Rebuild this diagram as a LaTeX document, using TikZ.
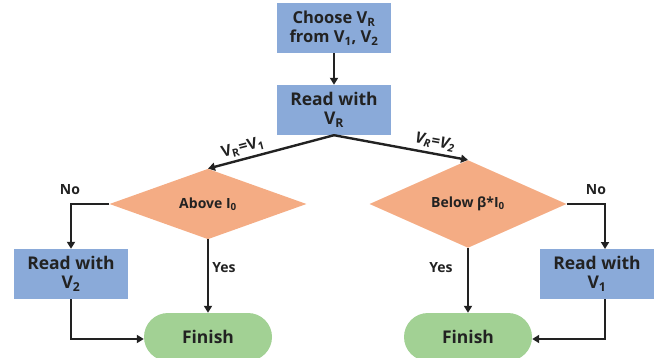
\documentclass[tikz,border=0pt]{standalone}
\usepackage{fontspec}
\setmainfont{Open Sans}
\usetikzlibrary{shapes.geometric,shapes.misc,arrows.meta}
\definecolor{boxblue}{HTML}{8AAAD9}
\definecolor{diaorange}{HTML}{F4AC84}
\definecolor{fingreen}{HTML}{A2D194}
\definecolor{ink}{HTML}{222222}
\begin{document}
\begin{tikzpicture}[x=1pt,y=-1pt,
  box/.style={fill=boxblue,minimum width=114pt,minimum height=50pt,inner sep=0pt,align=center,text=ink,font=\bfseries\fontsize{17.5}{19}\selectfont},
  dia/.style={diamond,fill=diaorange,minimum width=197pt,minimum height=49pt,inner sep=0pt,text=ink,font=\bfseries\fontsize{14}{16}\selectfont},
  fin/.style={rounded rectangle,fill=fingreen,minimum width=128pt,minimum height=48pt,inner sep=0pt,text=ink,font=\bfseries\fontsize{17.5}{20}\selectfont},
  lbl/.style={text=ink,font=\bfseries\fontsize{14}{16}\selectfont},
  conn/.style={draw=ink,line width=2.4pt,-{Triangle[width=8pt,length=7pt]}}
]
\useasboundingbox (0,0) rectangle (661,358);
\clip (0,0) rectangle (661,358);
\node[box,font=\bfseries\fontsize{16.5}{19}\selectfont] (choose) at (334,28) {Choose V\textsubscript{R}\\from V\textsubscript{1}, V\textsubscript{2}};
\node[box] (read) at (334,110) {Read with\\V\textsubscript{R}};
\node[dia] (above) at (208,204) {Above I\textsubscript{0}};
\node[dia] (below) at (468,204) {Below β*I\textsubscript{0}};
\node[box] (r2) at (71,274) {Read with\\V\textsubscript{2}};
\node[box] (r1) at (597,274) {Read with\\V\textsubscript{1}};
\node[fin] (f1) at (208,337) {Finish};
\node[fin] (f2) at (468,337) {Finish};
\coordinate (lc) at (71,204);
\coordinate (rc) at (605,204);
\coordinate (lb) at (71,339);
\coordinate (rb) at (605,339);
\coordinate (rtop) at (605,249);
\draw[conn] (choose) -- (read);
\draw[conn] (read.south) -- node[lbl,sloped,above,pos=0.7,font=\bfseries\fontsize{15.5}{17}\selectfont] {V\textsubscript{R}=V\textsubscript{1}} (above.north);
\draw[conn] (read.south) -- node[lbl,sloped,above,pos=0.74,font=\bfseries\itshape\fontsize{15.5}{17}\selectfont] {V\textsubscript{R}=V\textsubscript{2}} (below.north);
\draw[conn] (above.west) -- (lc) -- (r2.north);
\node[lbl] (no1) at (70,190) {No};
\draw[conn] (below.east) -- (rc) -- (rtop);
\node[lbl] (no2) at (596,190) {No};
\draw[conn] (above.south) -- (f1.north);
\node[lbl] (yes1) at (224,268) {Yes};
\draw[conn] (below.south) -- (f2.north);
\node[lbl] (yes2) at (441,268) {Yes};
\draw[conn] (r2.south) -- (lb) -- (f1.west |- lb);
\draw[conn] (r1.south -| rc) -- (rb) -- (f2.east |- rb);
\end{tikzpicture}
\end{document}
